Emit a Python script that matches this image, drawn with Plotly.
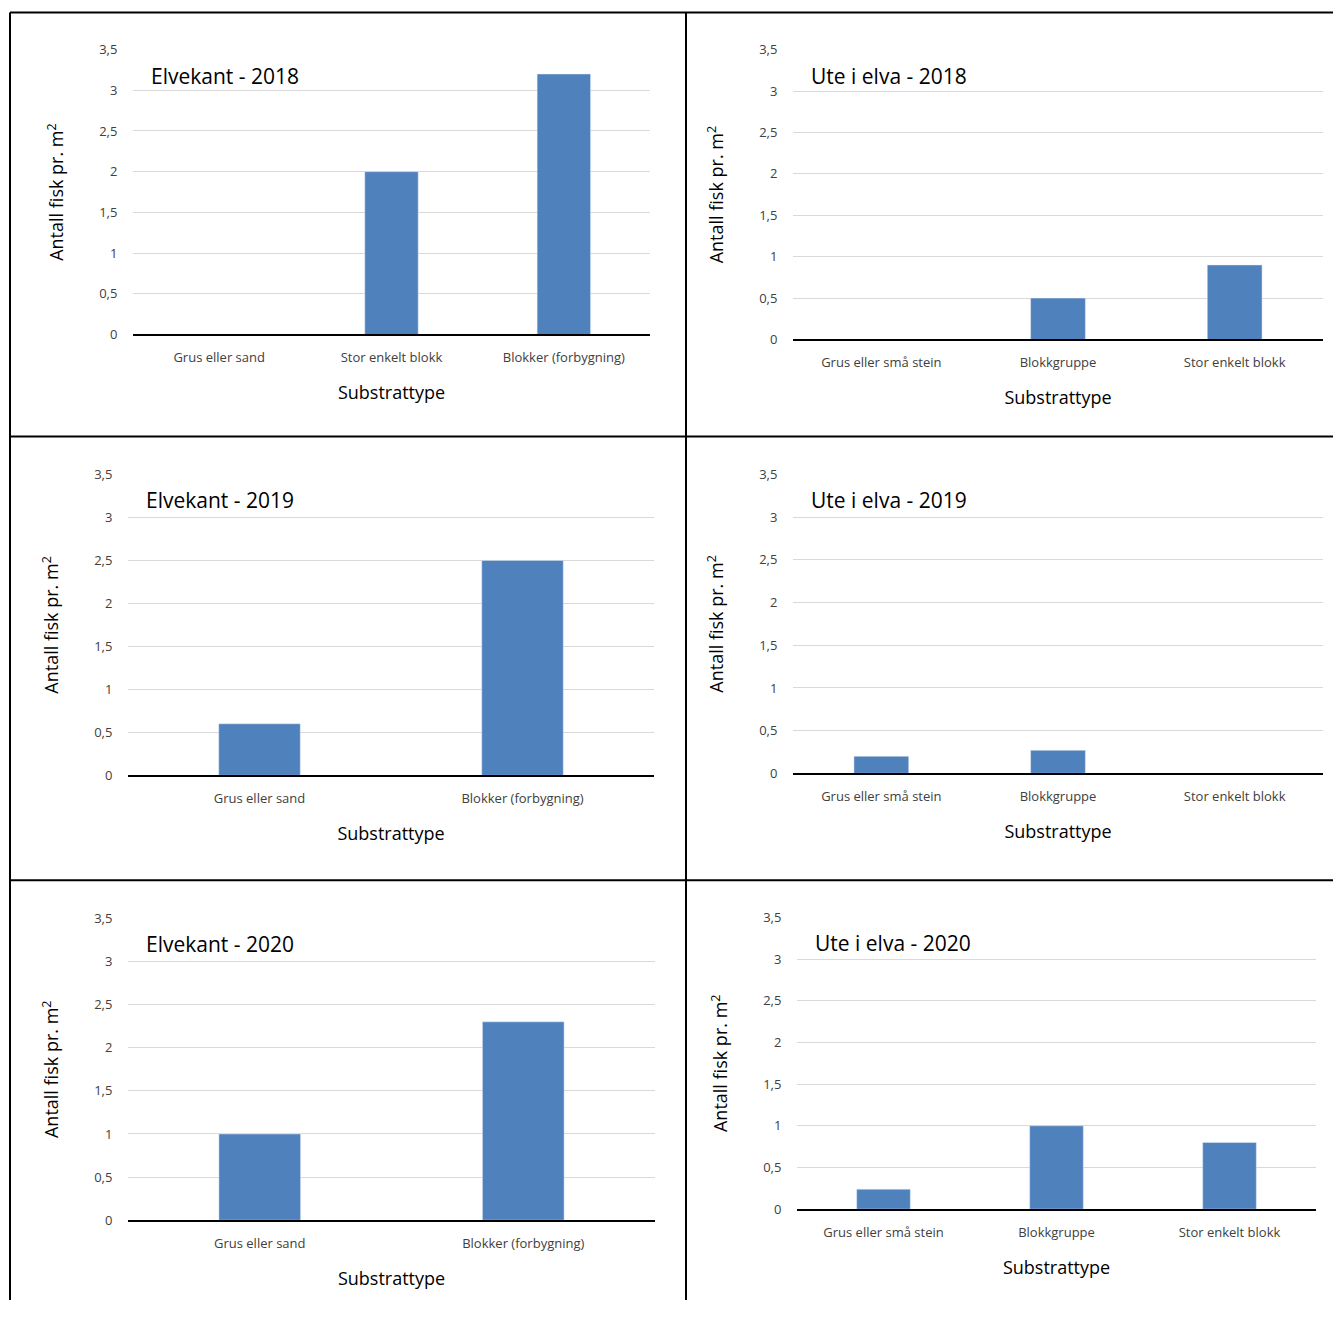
import plotly.graph_objects as go

# the page body adds an 8px margin, so the figure is drawn 16px smaller
W, H = 1325, 1301
OFF = 8

cats_kant_2018 = ["Grus eller sand", "Stor enkelt blokk", "Blokker (forbygning)"]
vals_kant_2018 = [0, 2.0, 3.2]
cats_ute = ["Grus eller små stein", "Blokkgruppe", "Stor enkelt blokk"]
vals_ute_2018 = [0, 0.5, 0.9]
cats_kant = ["Grus eller sand", "Blokker (forbygning)"]
vals_kant_2019 = [0.6, 2.5]
vals_ute_2019 = [0.2, 0.27, 0]
vals_kant_2020 = [1.0, 2.3]
vals_ute_2020 = [0.24, 1.0, 0.8]

ticks = [0, 0.5, 1, 1.5, 2, 2.5, 3, 3.5]
tick_text = ["0", "0,5", "1", "1,5", "2", "2,5", "3", "3,5"]


def px(x):
    return (x - OFF) / W


def py(y):
    u = (y - 8.5) / 0.9865
    return 1 - (u - OFF) / H


# (title, cats, vals, x0, x1, y0, y1) in reference pixels
panels = [
    ("Elvekant - 2018", cats_kant_2018, vals_kant_2018, 133, 650, 49, 334),
    ("Ute i elva - 2018", cats_ute, vals_ute_2018, 793, 1323, 49, 339),
    ("Elvekant - 2019", cats_kant, vals_kant_2019, 128, 654, 474, 775),
    ("Ute i elva - 2019", cats_ute, vals_ute_2019, 793, 1323, 474, 773),
    ("Elvekant - 2020", cats_kant, vals_kant_2020, 128, 655, 918, 1220),
    ("Ute i elva - 2020", cats_ute, vals_ute_2020, 797, 1316, 917, 1209),
]

fnt = "Open Sans"
fig = go.Figure()
annotations = []
for i, (title, cats, vals, x0, x1, y0, y1) in enumerate(panels):
    n = i + 1
    xa = "x" if n == 1 else f"x{n}"
    ya = "y" if n == 1 else f"y{n}"
    fig.add_trace(go.Bar(x=cats, y=vals, xaxis=xa, yaxis=ya, marker_color="#4f81bd",
                         width=0.31, showlegend=False))
    xkey = "xaxis" if n == 1 else f"xaxis{n}"
    ykey = "yaxis" if n == 1 else f"yaxis{n}"
    fig.layout[xkey] = dict(domain=[px(x0), px(x1)], anchor=ya, showline=True, linecolor="black",
                            linewidth=1.5, tickfont=dict(size=13, color="#404040"),
                            ticks="outside", ticklen=10, tickcolor="white",
                            title=dict(text="Substrattype", font=dict(size=18, color="black"), standoff=22))
    fig.layout[ykey] = dict(domain=[py(y1), py(y0)], anchor=xa, range=[0, 3.5],
                            tickvals=ticks, ticktext=tick_text, showgrid=True, gridcolor="#d9d9d9",
                            tickfont=dict(size=13, color="#404040"), zeroline=False,
                            ticks="outside", ticklen=12, tickcolor="white",
                            title=dict(text="Antall fisk pr. m<sup>2</sup>", font=dict(size=18, color="black"),
                                       standoff=30))
    annotations.append(dict(text=title, xref="paper", yref="paper", x=px(x0 + 16), y=py(y0 + 10),
                            xanchor="left", yanchor="top", showarrow=False, font=dict(size=21, color="black")))

shapes = []
line = dict(color="black", width=2)
for y in [12, 436, 880]:
    shapes.append(dict(type="line", xref="paper", yref="paper", x0=px(10), x1=1, y0=py(y), y1=py(y), line=line))
for x in [10, 686]:
    shapes.append(dict(type="line", xref="paper", yref="paper", x0=px(x), x1=px(x), y0=0, y1=py(12), line=line))

fig.update_layout(width=W, height=H, margin=dict(l=0, r=0, t=0, b=0), plot_bgcolor="white",
                  paper_bgcolor="white", font=dict(family=fnt), annotations=annotations, shapes=shapes)
fig.write_html("out.html")
